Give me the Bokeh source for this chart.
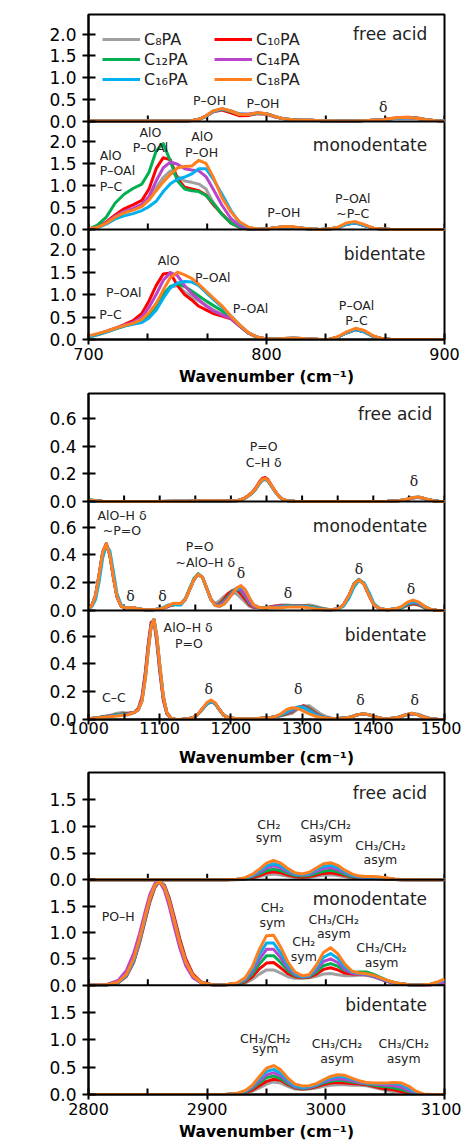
import math
from bokeh.plotting import figure
from bokeh.models import Range1d, LinearAxis, FixedTicker, NumeralTickFormatter, Label, Legend, LegendItem, Span
from bokeh.layouts import column
from bokeh.embed import file_html
from bokeh.resources import INLINE

# ---------------- data ----------------
series_names = ["C₈PA", "C₁₀PA", "C₁₂PA", "C₁₄PA", "C₁₆PA", "C₁₈PA"]

# 700-900 cm-1
wn_700 = [700, 705, 710, 715, 720, 725, 730, 734, 738, 742, 746, 750, 754, 758, 762, 766, 770, 775, 780, 785, 790, 795, 800,
          805, 810, 815, 820, 825, 830, 835, 840, 845, 850, 855, 860, 865, 870, 875, 880, 885, 890, 895, 900]

free_700_c8 = [0.01,0.01,0.01,0.01,0.01,0.01,0.01,0.01,0.01,0.01,0.01,0.01,0.01,0.02,0.05,0.13,0.24,0.28,0.22,0.15,0.15,0.18,0.17,0.10,0.06,0.04,0.03,0.03,0.02,0.02,0.01,0.01,0.01,0.02,0.03,0.04,0.06,0.08,0.08,0.06,0.04,0.02,0.01]
free_700_c10 = [0.01,0.01,0.01,0.01,0.01,0.01,0.01,0.01,0.01,0.01,0.01,0.01,0.01,0.02,0.05,0.12,0.22,0.26,0.20,0.13,0.14,0.18,0.17,0.10,0.06,0.04,0.03,0.03,0.02,0.02,0.01,0.01,0.01,0.02,0.03,0.04,0.07,0.09,0.10,0.08,0.04,0.02,0.01]
free_700_c12 = [0.01,0.01,0.01,0.01,0.01,0.01,0.01,0.01,0.01,0.01,0.01,0.01,0.01,0.02,0.05,0.12,0.23,0.28,0.23,0.16,0.16,0.19,0.18,0.11,0.06,0.04,0.03,0.03,0.02,0.02,0.01,0.01,0.01,0.02,0.03,0.04,0.06,0.08,0.09,0.07,0.04,0.02,0.01]
free_700_c14 = [0.01,0.01,0.01,0.01,0.01,0.01,0.01,0.01,0.01,0.01,0.01,0.01,0.01,0.02,0.05,0.12,0.23,0.29,0.24,0.17,0.17,0.20,0.18,0.11,0.06,0.04,0.03,0.03,0.02,0.02,0.01,0.01,0.01,0.02,0.03,0.04,0.06,0.08,0.08,0.07,0.04,0.02,0.01]
free_700_c16 = [0.01,0.01,0.01,0.01,0.01,0.01,0.01,0.01,0.01,0.01,0.01,0.01,0.01,0.02,0.05,0.12,0.23,0.29,0.24,0.17,0.16,0.19,0.18,0.11,0.06,0.04,0.03,0.03,0.02,0.02,0.01,0.01,0.01,0.02,0.03,0.04,0.06,0.08,0.09,0.07,0.04,0.02,0.01]
free_700_c18 = [0.01,0.01,0.01,0.01,0.01,0.01,0.01,0.01,0.01,0.01,0.01,0.01,0.01,0.02,0.05,0.13,0.24,0.30,0.24,0.16,0.16,0.20,0.18,0.11,0.06,0.04,0.03,0.03,0.02,0.02,0.01,0.01,0.01,0.02,0.03,0.04,0.07,0.09,0.09,0.07,0.04,0.02,0.01]

mono_700_c8 = [0.01,0.05,0.14,0.28,0.38,0.45,0.54,0.72,0.95,1.18,1.33,1.20,1.10,1.07,1.03,0.92,0.62,0.35,0.14,0.05,0.01,0.00,0.01,0.04,0.06,0.05,0.03,0.01,0.00,0.01,0.04,0.12,0.15,0.09,0.03,0.01,0.00,0.00,0.00,0.00,0.00,0.00,0.00]
mono_700_c10 = [0.01,0.06,0.17,0.33,0.47,0.56,0.66,0.92,1.38,1.63,1.58,1.15,0.96,0.92,0.88,0.78,0.57,0.35,0.15,0.05,0.01,0.00,0.01,0.04,0.06,0.05,0.03,0.01,0.00,0.01,0.04,0.12,0.15,0.09,0.03,0.01,0.00,0.00,0.00,0.00,0.00,0.00,0.00]
mono_700_c12 = [0.00,0.10,0.28,0.60,0.80,0.93,1.03,1.30,1.78,1.95,1.55,1.10,0.92,0.88,0.86,0.77,0.60,0.34,0.15,0.05,0.01,0.00,0.01,0.04,0.06,0.05,0.03,0.01,0.00,0.01,0.04,0.12,0.15,0.09,0.03,0.01,0.00,0.00,0.00,0.00,0.00,0.00,0.00]
mono_700_c14 = [0.01,0.05,0.15,0.30,0.41,0.48,0.57,0.75,1.10,1.40,1.53,1.48,1.38,1.35,1.33,1.20,0.92,0.55,0.25,0.08,0.02,0.00,0.01,0.04,0.06,0.05,0.03,0.01,0.00,0.01,0.04,0.12,0.15,0.09,0.03,0.01,0.00,0.00,0.00,0.00,0.00,0.00,0.00]
mono_700_c16 = [0.01,0.04,0.12,0.24,0.31,0.36,0.43,0.52,0.64,0.86,1.04,1.14,1.19,1.26,1.38,1.38,1.15,0.80,0.43,0.15,0.04,0.01,0.01,0.04,0.06,0.05,0.03,0.01,0.00,0.01,0.04,0.12,0.15,0.09,0.03,0.01,0.00,0.00,0.00,0.00,0.00,0.00,0.00]
mono_700_c18 = [0.01,0.05,0.14,0.28,0.38,0.44,0.52,0.67,0.88,1.08,1.25,1.40,1.43,1.44,1.57,1.50,1.20,0.72,0.40,0.17,0.05,0.01,0.01,0.04,0.07,0.06,0.03,0.01,0.00,0.01,0.05,0.15,0.18,0.11,0.03,0.01,0.00,0.00,0.00,0.00,0.00,0.00,0.00]

bi_700_c8 = [0.05,0.10,0.16,0.23,0.30,0.36,0.44,0.58,0.80,1.02,1.16,1.20,1.06,0.95,0.86,0.76,0.66,0.57,0.48,0.30,0.14,0.05,0.01,0.01,0.02,0.03,0.02,0.01,0.00,0.00,0.05,0.15,0.22,0.17,0.07,0.02,0.00,0.00,0.00,0.00,0.00,0.00,0.00]
bi_700_c10 = [0.07,0.12,0.18,0.25,0.33,0.42,0.58,0.86,1.20,1.46,1.48,1.20,1.00,0.88,0.74,0.66,0.58,0.52,0.46,0.30,0.14,0.05,0.01,0.01,0.02,0.03,0.02,0.01,0.00,0.00,0.05,0.15,0.22,0.17,0.07,0.02,0.00,0.00,0.00,0.00,0.00,0.00,0.00]
bi_700_c12 = [0.06,0.11,0.17,0.24,0.30,0.35,0.42,0.55,0.75,1.00,1.18,1.24,1.18,1.08,0.97,0.86,0.76,0.64,0.49,0.30,0.14,0.04,0.01,0.01,0.02,0.03,0.02,0.01,0.00,0.00,0.05,0.15,0.22,0.17,0.07,0.02,0.00,0.00,0.00,0.00,0.00,0.00,0.00]
bi_700_c14 = [0.07,0.12,0.18,0.25,0.32,0.38,0.50,0.72,1.00,1.32,1.49,1.42,1.20,1.02,0.89,0.75,0.64,0.55,0.47,0.30,0.14,0.05,0.01,0.01,0.02,0.03,0.02,0.01,0.00,0.00,0.05,0.15,0.22,0.17,0.07,0.02,0.00,0.00,0.00,0.00,0.00,0.00,0.00]
bi_700_c16 = [0.06,0.11,0.17,0.24,0.30,0.34,0.38,0.48,0.65,0.92,1.15,1.26,1.29,1.28,1.20,1.05,0.90,0.72,0.52,0.32,0.15,0.05,0.01,0.01,0.02,0.03,0.02,0.01,0.00,0.00,0.05,0.15,0.22,0.17,0.07,0.02,0.00,0.00,0.00,0.00,0.00,0.00,0.00]
bi_700_c18 = [0.08,0.13,0.18,0.25,0.31,0.36,0.45,0.60,0.80,1.10,1.38,1.50,1.44,1.36,1.23,1.08,0.93,0.75,0.52,0.32,0.15,0.05,0.01,0.01,0.02,0.03,0.02,0.01,0.00,0.00,0.06,0.17,0.25,0.20,0.08,0.02,0.00,0.00,0.00,0.00,0.00,0.00,0.00]

# 1000-1500 cm-1
wn_1000_free = [1000,1010,1020,1040,1060,1080,1100,1120,1140,1160,1180,1200,1210,1218,1224,1230,1235,1240,1244,1248,1252,1257,1262,1268,1274,1282,1290,1310,1340,1370,1400,1420,1435,1445,1452,1458,1464,1470,1477,1485,1492,1500]
free_1000_c8 = [0.010,0.005,0.001,0.000,0.000,0.000,0.000,0.002,0.002,0.004,0.004,0.003,0.007,0.019,0.038,0.062,0.091,0.128,0.152,0.160,0.148,0.110,0.072,0.034,0.012,0.004,0.001,0.000,0.000,0.000,0.000,0.001,0.005,0.012,0.021,0.027,0.029,0.023,0.012,0.005,0.001,0.000]
free_1000_c10 = [0.010,0.005,0.000,0.000,0.000,0.000,0.000,0.002,0.002,0.005,0.005,0.003,0.008,0.021,0.042,0.068,0.100,0.142,0.168,0.174,0.160,0.118,0.076,0.035,0.012,0.004,0.001,0.000,0.000,0.000,0.000,0.001,0.005,0.012,0.022,0.028,0.030,0.024,0.013,0.005,0.001,0.000]
free_1000_c12 = [0.015,0.008,0.002,0.000,0.000,0.000,0.000,0.002,0.002,0.005,0.005,0.003,0.008,0.020,0.040,0.064,0.094,0.133,0.158,0.165,0.152,0.113,0.074,0.035,0.012,0.004,0.001,0.000,0.000,0.000,0.000,0.001,0.006,0.013,0.023,0.029,0.031,0.025,0.013,0.005,0.001,0.000]
free_1000_c14 = [0.010,0.005,0.000,0.000,0.000,0.000,0.000,0.002,0.002,0.005,0.005,0.003,0.008,0.020,0.040,0.064,0.094,0.133,0.158,0.165,0.152,0.113,0.074,0.035,0.012,0.004,0.001,0.000,0.000,0.000,0.000,0.001,0.006,0.013,0.023,0.029,0.031,0.025,0.013,0.005,0.001,0.000]
free_1000_c16 = [0.008,0.004,0.000,0.000,0.000,0.000,0.000,0.002,0.002,0.004,0.004,0.003,0.007,0.018,0.037,0.062,0.091,0.130,0.154,0.162,0.150,0.112,0.073,0.034,0.012,0.004,0.001,0.000,0.000,0.000,0.000,0.001,0.006,0.014,0.024,0.030,0.032,0.025,0.013,0.005,0.001,0.000]
free_1000_c18 = [0.010,0.005,0.000,0.000,0.000,0.000,0.000,0.002,0.002,0.005,0.005,0.003,0.008,0.020,0.040,0.065,0.095,0.135,0.160,0.168,0.155,0.115,0.075,0.035,0.012,0.004,0.001,0.000,0.000,0.000,0.000,0.001,0.006,0.014,0.024,0.031,0.033,0.026,0.014,0.005,0.001,0.000]

wn_1000_mono = [1000,1005,1010,1015,1020,1025,1030,1035,1040,1046,1052,1058,1064,1070,1080,1090,1100,1106,1112,1118,1124,1130,1136,1142,1148,1154,1160,1166,1172,1178,1184,1190,1196,1202,1208,1214,1220,1226,1232,1240,1250,1260,1270,1280,1290,1300,1310,1320,1330,1340,1350,1358,1366,1373,1380,1387,1394,1401,1410,1420,1430,1440,1448,1456,1464,1472,1480,1490,1500]
mono_1000_c8 = [0.01,0.04,0.11,0.26,0.42,0.48,0.40,0.24,0.10,0.03,0.02,0.02,0.02,0.01,0.005,0.005,0.01,
                0.02,0.03,0.04,0.045,0.05,0.08,0.15,0.22,0.26,0.24,0.16,0.08,0.05,0.07,0.10,0.125,0.13,0.12,0.09,0.06,0.03,0.02,
                0.02,0.02,0.03,0.04,0.04,0.035,0.035,0.04,0.03,0.015,0.005,0.01,0.04,0.11,0.19,0.22,0.19,0.11,0.04,
                0.01,0.005,0.01,0.02,0.035,0.045,0.04,0.02,0.01,0.0,0.0]
mono_1000_c10 = [0.01,0.04,0.11,0.26,0.42,0.48,0.40,0.24,0.10,0.03,0.02,0.02,0.02,0.01,0.005,0.005,0.01,
                 0.02,0.03,0.04,0.045,0.05,0.08,0.15,0.22,0.26,0.24,0.16,0.08,0.04,0.05,0.08,0.12,0.145,0.15,0.12,0.08,0.04,0.025,
                 0.02,0.02,0.03,0.035,0.035,0.035,0.035,0.03,0.02,0.01,0.005,0.01,0.04,0.11,0.19,0.22,0.19,0.11,0.04,
                 0.01,0.005,0.01,0.02,0.04,0.05,0.04,0.02,0.01,0.0,0.0]
mono_1000_c12 = [0.01,0.04,0.11,0.26,0.42,0.48,0.40,0.24,0.10,0.03,0.02,0.02,0.02,0.01,0.005,0.005,0.01,
                 0.02,0.03,0.04,0.045,0.05,0.085,0.16,0.23,0.265,0.24,0.16,0.08,0.04,0.045,0.07,0.10,0.14,0.16,0.14,0.10,0.05,0.03,
                 0.02,0.02,0.025,0.03,0.035,0.03,0.03,0.03,0.02,0.01,0.005,0.01,0.04,0.11,0.195,0.225,0.19,0.11,0.04,
                 0.01,0.005,0.01,0.02,0.045,0.055,0.045,0.02,0.01,0.0,0.0]
mono_1000_c14 = [0.01,0.04,0.11,0.26,0.42,0.48,0.40,0.24,0.10,0.03,0.02,0.02,0.02,0.01,0.005,0.005,0.01,
                 0.02,0.03,0.045,0.05,0.05,0.08,0.15,0.22,0.26,0.24,0.16,0.08,0.04,0.04,0.06,0.09,0.13,0.16,0.15,0.11,0.06,0.03,
                 0.02,0.02,0.025,0.03,0.03,0.03,0.03,0.025,0.015,0.005,0.005,0.01,0.04,0.11,0.19,0.22,0.19,0.11,0.04,
                 0.01,0.005,0.01,0.025,0.05,0.06,0.05,0.025,0.01,0.0,0.0]
mono_1000_c16 = [0.01,0.03,0.08,0.21,0.38,0.47,0.43,0.28,0.12,0.04,0.02,0.02,0.015,0.01,0.005,0.005,0.01,
                 0.025,0.04,0.045,0.04,0.04,0.08,0.15,0.22,0.26,0.24,0.16,0.08,0.035,0.03,0.045,0.08,0.12,0.15,0.17,0.15,0.09,0.04,
                 0.02,0.02,0.02,0.025,0.03,0.03,0.03,0.025,0.015,0.005,0.005,0.01,0.03,0.09,0.17,0.215,0.20,0.13,0.05,
                 0.01,0.005,0.01,0.025,0.05,0.065,0.055,0.03,0.01,0.0,0.0]
mono_1000_c18 = [0.01,0.04,0.11,0.26,0.42,0.48,0.40,0.24,0.10,0.03,0.02,0.02,0.02,0.01,0.005,0.005,0.01,
                 0.02,0.035,0.05,0.052,0.05,0.08,0.15,0.22,0.26,0.24,0.16,0.08,0.035,0.03,0.045,0.08,0.12,0.16,0.18,0.15,0.09,0.04,
                 0.02,0.02,0.02,0.02,0.025,0.025,0.025,0.02,0.01,0.005,0.005,0.01,0.04,0.11,0.19,0.22,0.19,0.11,0.04,
                 0.01,0.005,0.01,0.03,0.06,0.075,0.06,0.03,0.01,0.0,0.0]

wn_1000_bi = [1000,1010,1020,1030,1040,1048,1056,1064,1070,1075,1080,1084,1088,1092,1096,1100,1105,1110,1116,1122,1130,1140,1148,1154,1160,1166,1172,1178,1184,1190,1198,1210,1230,1250,1262,1270,1278,1286,1294,1302,1310,1318,1326,1334,1345,1360,1370,1378,1386,1394,1402,1412,1420,1430,1438,1446,1454,1462,1470,1480,1490,1500]
bi_1000_c8 = [0.005,0.01,0.02,0.03,0.045,0.05,0.045,0.05,0.07,0.14,0.32,0.52,0.68,0.72,0.58,0.38,0.16,0.05,0.01,0.0,0.0,
              0.005,0.015,0.04,0.075,0.11,0.13,0.115,0.07,0.03,0.01,0.005,0.005,0.01,
              0.015,0.025,0.035,0.045,0.075,0.095,0.10,0.07,0.04,0.02,0.005,0.01,0.02,0.035,0.04,0.035,0.02,0.008,
              0.005,0.01,0.02,0.03,0.04,0.04,0.025,0.008,0.002,0.0]
bi_1000_c10 = [0.005,0.01,0.02,0.025,0.035,0.04,0.045,0.05,0.08,0.16,0.35,0.55,0.70,0.71,0.55,0.35,0.14,0.04,0.01,0.0,0.0,
               0.005,0.015,0.04,0.075,0.11,0.13,0.115,0.07,0.03,0.01,0.005,0.005,0.01,
               0.02,0.03,0.04,0.055,0.085,0.10,0.08,0.05,0.025,0.01,0.005,0.01,0.02,0.035,0.04,0.035,0.02,0.008,
               0.005,0.01,0.02,0.035,0.042,0.035,0.018,0.005,0.001,0.0]
bi_1000_c12 = [0.005,0.01,0.02,0.025,0.035,0.04,0.04,0.05,0.07,0.14,0.32,0.52,0.68,0.72,0.58,0.38,0.16,0.05,0.01,0.0,0.0,
               0.005,0.015,0.04,0.075,0.11,0.13,0.115,0.07,0.03,0.01,0.005,0.005,0.01,
               0.02,0.03,0.045,0.06,0.085,0.095,0.075,0.045,0.025,0.01,0.005,0.01,0.02,0.035,0.04,0.035,0.02,0.008,
               0.005,0.01,0.02,0.035,0.042,0.035,0.018,0.005,0.001,0.0]
bi_1000_c14 = [0.005,0.01,0.015,0.025,0.03,0.035,0.04,0.05,0.07,0.14,0.32,0.52,0.68,0.72,0.58,0.38,0.16,0.05,0.01,0.0,0.0,
               0.005,0.015,0.04,0.075,0.11,0.13,0.115,0.07,0.03,0.01,0.005,0.005,0.01,
               0.02,0.035,0.05,0.065,0.088,0.09,0.065,0.04,0.02,0.01,0.005,0.01,0.02,0.035,0.04,0.035,0.02,0.008,
               0.005,0.01,0.02,0.035,0.042,0.035,0.018,0.005,0.001,0.0]
bi_1000_c16 = [0.005,0.01,0.015,0.02,0.03,0.035,0.035,0.05,0.07,0.13,0.30,0.50,0.67,0.72,0.60,0.40,0.17,0.05,0.01,0.0,0.0,
               0.005,0.015,0.04,0.075,0.11,0.13,0.115,0.07,0.03,0.01,0.005,0.005,0.01,
               0.02,0.035,0.055,0.075,0.09,0.085,0.06,0.035,0.02,0.01,0.005,0.01,0.02,0.035,0.042,0.035,0.02,0.008,
               0.005,0.01,0.02,0.035,0.045,0.035,0.018,0.005,0.001,0.0]
bi_1000_c18 = [0.005,0.01,0.015,0.02,0.025,0.03,0.035,0.05,0.07,0.13,0.30,0.50,0.67,0.72,0.60,0.40,0.17,0.05,0.01,0.0,0.0,
               0.005,0.015,0.04,0.08,0.12,0.14,0.12,0.07,0.03,0.01,0.005,0.005,0.01,
               0.02,0.04,0.07,0.085,0.08,0.06,0.04,0.025,0.015,0.01,0.005,0.01,0.02,0.035,0.042,0.035,0.02,0.008,
               0.005,0.01,0.02,0.035,0.045,0.035,0.018,0.005,0.001,0.0]

# 2800-3100 cm-1
wn_2800_free = [2800,2850,2900,2915,2925,2932,2938,2944,2950,2956,2962,2968,2974,2980,2986,2992,2998,3004,3010,3016,3022,3028,3034,3040,3046,3052,3058,3064,3075,3090,3100]
free_2800_c8 = [0,0,0,0,0.003,0.01,0.03,0.06,0.09,0.11,0.09,0.065,0.045,0.04,0.045,0.065,0.085,0.095,0.08,0.055,0.035,0.02,0.02,0.02,0.015,0.01,0.004,0.001,0,0,0]
free_2800_c10 = [0,0,0,0,0.004,0.02,0.04,0.08,0.13,0.15,0.13,0.09,0.06,0.05,0.06,0.09,0.12,0.13,0.11,0.08,0.05,0.03,0.025,0.025,0.02,0.015,0.006,0.002,0,0,0]
free_2800_c12 = [0,0,0,0,0.005,0.02,0.06,0.11,0.17,0.2,0.17,0.12,0.08,0.07,0.08,0.12,0.16,0.18,0.15,0.1,0.06,0.04,0.03,0.03,0.03,0.02,0.008,0.002,0,0,0]
free_2800_c14 = [0,0,0,0,0.01,0.03,0.07,0.14,0.22,0.26,0.22,0.15,0.1,0.09,0.1,0.16,0.21,0.23,0.19,0.13,0.08,0.05,0.04,0.04,0.04,0.025,0.01,0.003,0,0,0]
free_2800_c16 = [0,0,0,0,0.01,0.03,0.08,0.17,0.26,0.3,0.26,0.18,0.11,0.1,0.12,0.19,0.25,0.27,0.23,0.15,0.09,0.06,0.05,0.05,0.045,0.03,0.012,0.004,0,0,0]
free_2800_c18 = [0,0,0,0,0.01,0.04,0.1,0.2,0.31,0.36,0.31,0.21,0.13,0.11,0.14,0.22,0.3,0.32,0.27,0.18,0.11,0.07,0.06,0.06,0.055,0.035,0.015,0.005,0,0,0]

wn_2800_mono = [2800,2815,2825,2832,2838,2843,2848,2852,2856,2860,2864,2868,2872,2877,2882,2888,2895,2905,2915,2925,2932,2938,2944,2950,2956,2962,2968,2974,2980,2986,2992,2998,3004,3010,3016,3022,3028,3034,3040,3046,3052,3060,3070,3080,3088,3094,3100]
mono_2800_c8 = [0.0,0.005,0.05,0.19,0.47,0.85,1.3,1.65,1.89,1.97,1.87,1.6,1.25,0.81,0.44,0.18,0.05,0.005,0.01,
                0.015,0.04,0.11,0.21,0.29,0.29,0.23,0.16,0.13,0.13,0.14,0.17,0.21,0.22,0.2,0.18,0.18,0.19,0.19,0.16,0.11,0.07,0.03,0.01,0.003,0.01,0.02,0.04]
mono_2800_c10 = [0.0,0.004,0.045,0.17,0.43,0.8,1.25,1.6,1.86,1.97,1.9,1.66,1.32,0.88,0.5,0.21,0.06,0.006,0.01,
                 0.02,0.06,0.16,0.31,0.42,0.43,0.33,0.22,0.16,0.14,0.15,0.21,0.3,0.33,0.29,0.23,0.21,0.21,0.2,0.17,0.12,0.07,0.03,0.01,0.003,0.01,0.02,0.04]
mono_2800_c12 = [0.0,0.005,0.06,0.22,0.52,0.9,1.35,1.69,1.91,1.96,1.84,1.56,1.2,0.77,0.41,0.16,0.045,0.005,0.01,
                 0.025,0.08,0.21,0.4,0.56,0.56,0.43,0.28,0.18,0.15,0.16,0.25,0.37,0.41,0.36,0.28,0.24,0.25,0.25,0.21,0.15,0.09,0.04,0.01,0.005,0.02,0.05,0.09]
mono_2800_c14 = [0.0,0.01,0.09,0.28,0.6,0.98,1.42,1.74,1.93,1.96,1.8,1.5,1.13,0.7,0.37,0.14,0.04,0.005,0.01,
                 0.03,0.1,0.26,0.49,0.68,0.68,0.52,0.33,0.2,0.155,0.17,0.29,0.45,0.5,0.43,0.3,0.23,0.21,0.2,0.17,0.12,0.07,0.03,0.01,0.003,0.01,0.03,0.05]
mono_2800_c16 = [0.0,0.004,0.05,0.18,0.45,0.83,1.28,1.64,1.88,1.97,1.88,1.62,1.27,0.82,0.45,0.18,0.05,0.005,0.01,
                 0.035,0.12,0.3,0.58,0.8,0.8,0.61,0.38,0.22,0.165,0.18,0.33,0.53,0.6,0.51,0.35,0.25,0.22,0.21,0.18,0.13,0.08,0.035,0.01,0.005,0.02,0.05,0.1]
mono_2800_c18 = [0.0,0.006,0.06,0.21,0.5,0.88,1.33,1.67,1.9,1.97,1.86,1.59,1.24,0.8,0.44,0.18,0.05,0.005,0.01,
                 0.04,0.14,0.35,0.68,0.94,0.95,0.72,0.44,0.25,0.18,0.2,0.38,0.62,0.71,0.6,0.4,0.27,0.23,0.22,0.19,0.14,0.09,0.04,0.01,0.005,0.02,0.06,0.12]

wn_2800_bi = [2800,2850,2900,2915,2925,2932,2938,2944,2950,2956,2962,2968,2974,2980,2986,2992,2998,3004,3010,3016,3022,3028,3034,3040,3046,3052,3058,3064,3070,3076,3082,3090,3100]
bi_2800_c8 = [0,0,0,0,0.006,0.025,0.06,0.12,0.19,0.23,0.21,0.15,0.1,0.09,0.1,0.12,0.15,0.17,0.18,0.18,0.17,0.17,0.16,0.13,0.1,0.07,0.05,0.03,0.015,0.005,0.0,0,0]
bi_2800_c10 = [0,0,0,0,0.008,0.03,0.08,0.16,0.24,0.28,0.26,0.18,0.12,0.1,0.11,0.14,0.18,0.21,0.22,0.21,0.2,0.19,0.18,0.15,0.12,0.1,0.08,0.05,0.025,0.008,0.001,0,0]
bi_2800_c12 = [0,0,0,0,0.01,0.04,0.11,0.21,0.31,0.34,0.29,0.2,0.13,0.11,0.12,0.16,0.21,0.24,0.26,0.25,0.23,0.21,0.19,0.17,0.15,0.14,0.12,0.09,0.05,0.015,0.002,0,0]
bi_2800_c14 = [0,0,0,0,0.015,0.05,0.13,0.25,0.36,0.4,0.34,0.23,0.14,0.12,0.13,0.17,0.23,0.27,0.29,0.28,0.25,0.22,0.2,0.19,0.18,0.17,0.16,0.13,0.07,0.02,0.003,0,0]
bi_2800_c16 = [0,0,0,0,0.015,0.06,0.15,0.29,0.42,0.46,0.39,0.26,0.16,0.13,0.14,0.18,0.25,0.3,0.33,0.32,0.28,0.24,0.21,0.2,0.2,0.2,0.2,0.18,0.11,0.04,0.005,0,0]
bi_2800_c18 = [0,0,0,0,0.02,0.07,0.17,0.33,0.48,0.53,0.45,0.3,0.19,0.155,0.16,0.2,0.27,0.33,0.36,0.35,0.3,0.25,0.22,0.21,0.21,0.21,0.22,0.21,0.15,0.06,0.01,0.0,0.0]

# tick positions
g1_major, g1_minor = [700, 800, 900], [733.33, 766.67, 833.33, 866.67]
g2_major, g2_minor = [1000, 1100, 1200, 1300, 1400, 1500], [1050, 1150, 1250, 1350, 1450]
g3_major, g3_minor = [2800, 2900, 3000, 3100], [2850, 2950, 3050]
g1_yticks = [0, 0.5, 1.0, 1.5, 2.0]
g2_yticks = [0, 0.2, 0.4, 0.6]
g3_yticks = [0, 0.5, 1.0, 1.5]

# ---------------- styling ----------------
FONT = "DejaVu Sans"
SERIF = "DejaVu Serif"
TXT = "#222222"
COLORS = ["#A0A0A0", "#FF0000", "#00B050", "#BB44CC", "#00B0F0", "#FF7F1F"]
LEFT, RIGHT = 88, 17
FRAME_W = 461 - LEFT - RIGHT


def make_group(xstart, xend, xmajor, xminor, ymax, yticks, H, bands, top, bottom,
               lbl_standoff, ttl_standoff):
    """One figure holding three stacked panels; each panel has its own y range."""
    names = ["free", "mono", "default"]
    u = [ymax / (b - t) for (t, b) in bands]
    ranges = {}
    for nm, (t, b), uk in zip(names, bands, u):
        ranges[nm] = Range1d(-(H - b) * uk, ymax + t * uk)
    p = figure(width=461, height=top + H + bottom,
               x_range=Range1d(xstart, xend), y_range=ranges["default"],
               extra_y_ranges={"free": ranges["free"], "mono": ranges["mono"]},
               output_backend="svg", toolbar_location=None, title=None,
               x_axis_location=None, y_axis_location=None,
               min_border_left=LEFT, min_border_right=RIGHT,
               min_border_top=top, min_border_bottom=bottom)
    p.xgrid.visible = False
    p.ygrid.visible = False
    p.outline_line_color = "black"
    p.outline_line_width = 2
    p.outline_line_alpha = 1
    p.background_fill_color = "white"
    p.border_fill_color = "white"

    # left axis: one axis carrying the ticks of all three panels
    ud = u[2]
    tick_pos, overrides = [], {}
    for (t, b), uk in zip(bands, u):
        for v in yticks:
            py = b - v / uk
            pos = round((H - py) * ud, 9)
            tick_pos.append(pos)
            overrides[pos] = "%.1f" % v
    yax = LinearAxis(ticker=FixedTicker(ticks=tick_pos), major_label_overrides=overrides)
    yax.major_label_text_font = FONT
    yax.major_label_text_font_size = "17px"
    yax.major_label_text_color = "black"
    yax.major_label_standoff = 6
    yax.major_tick_in = 7
    yax.major_tick_out = 6
    yax.major_tick_line_width = 2
    yax.minor_tick_line_color = None
    yax.axis_line_width = 2
    p.add_layout(yax, "left")

    xax = LinearAxis(ticker=FixedTicker(ticks=xmajor, minor_ticks=xminor),
                     formatter=NumeralTickFormatter(format="0"))
    xax.axis_line_width = 2
    xax.major_tick_line_width = 2
    xax.minor_tick_line_width = 2
    xax.major_tick_in = 6
    xax.minor_tick_in = 6
    xax.minor_tick_out = 0
    xax.major_tick_out = 5
    xax.major_label_text_font = FONT
    xax.major_label_text_font_size = "16px"
    xax.major_label_text_color = "black"
    xax.major_label_standoff = lbl_standoff
    xax.axis_label = "Wavenumber (cm⁻¹)"
    xax.axis_label_text_font = FONT
    xax.axis_label_text_font_style = "bold"
    xax.axis_label_text_font_size = "15.5px"
    xax.axis_label_text_color = "black"
    xax.axis_label_standoff = ttl_standoff
    p.add_layout(xax, "below")

    # panel separators, inner ticks of the upper panels, "Intensity" labels
    xpx = (xend - xstart) / FRAME_W
    for nm, (t, b), uk in zip(names, bands, u):
        if nm != "default":
            p.add_layout(Span(location=0, dimension="width", y_range_name=nm,
                              line_color="black", line_width=2))
            tk = xmajor + xminor
            p.segment(x0=tk, y0=[0] * len(tk), x1=tk, y1=[6 * uk] * len(tk),
                      y_range_name=nm, line_color="black", line_width=2)
        p.add_layout(Label(x=xstart + (20 - LEFT) * xpx, y=(b - t) / 2 * uk,
                           y_range_name=nm, text="Intensity", angle=math.pi / 2,
                           text_align="center", text_baseline="middle",
                           text_font=FONT, text_font_style="bold", text_font_size="15.5px",
                           text_color="black"))
    return p


def draw(p, rn, x, ys):
    rends = []
    for y, c in zip(ys, COLORS):
        rends.append(p.line(x, y, line_color=c, line_width=3, line_join="round", y_range_name=rn))
    return rends


def note(p, rn, text, x, y, align="center", size="12.5px", font=FONT):
    p.add_layout(Label(x=x, y=y, text=text, text_align=align, text_baseline="middle", y_range_name=rn,
                       text_font=font, text_font_size=size, text_color=TXT))


def delta(p, rn, x, y):
    note(p, rn, "δ", x, y, size="14px", font=SERIF)


# ---- group 1: 700-900 ----
G1 = make_group(700, 900, g1_major, g1_minor, 2.45, g1_yticks, 325,
                [(0, 107), (107, 215), (215, 325)], 14, 53, 3, 5)
r1 = draw(G1, "free", wn_700, [free_700_c8, free_700_c10, free_700_c12, free_700_c14, free_700_c16, free_700_c18])
draw(G1, "mono", wn_700, [mono_700_c8, mono_700_c10, mono_700_c12, mono_700_c14, mono_700_c16, mono_700_c18])
draw(G1, "default", wn_700, [bi_700_c8, bi_700_c10, bi_700_c12, bi_700_c14, bi_700_c16, bi_700_c18])
order = [0, 2, 4, 1, 3, 5]
legend = Legend(items=[LegendItem(label=series_names[i], renderers=[r1[i]]) for i in order],
                location=(14, 250), orientation="vertical", ncols=2,
                label_text_font=FONT, label_text_font_size="16px", label_text_color=TXT,
                glyph_width=38, glyph_height=20, label_height=20, label_width=70,
                spacing=0, padding=0, margin=0, label_standoff=4,
                border_line_color=None, background_fill_alpha=0)
G1.add_layout(legend)
note(G1, "free", "free acid", 890.3, 2.0, "right", "17px")
note(G1, "free", "P–OH", 768, 0.49)
note(G1, "free", "P–OH", 798, 0.41)
delta(G1, "free", 865.5, 0.34)
note(G1, "mono", "monodentate", 890.3, 1.91, "right", "17px")
note(G1, "mono", "AlO", 706.3, 1.68, "left")
note(G1, "mono", "P–OAl", 706.3, 1.34, "left")
note(G1, "mono", "P–C", 706.3, 0.98, "left")
note(G1, "mono", "AlO", 734.8, 2.2)
note(G1, "mono", "P–OAl", 734.8, 1.85)
note(G1, "mono", "AlO", 763.9, 2.1)
note(G1, "mono", "P–OH", 763.5, 1.74)
note(G1, "mono", "P–OH", 809.7, 0.38)
note(G1, "mono", "P–OAl", 848.5, 0.71)
note(G1, "mono", "~P–C", 848.5, 0.36)
note(G1, "default", "bidentate", 889.3, 1.9, "right", "17px")
note(G1, "default", "AlO", 745, 1.75)
note(G1, "default", "P–OAl", 719.8, 1.05)
note(G1, "default", "P–C", 712.4, 0.55)
note(G1, "default", "P–OAl", 769.8, 1.37)
note(G1, "default", "P–OAl", 791, 0.68)
note(G1, "default", "P–OAl", 850.6, 0.76)
note(G1, "default", "P–C", 850.6, 0.42)

# ---- group 2: 1000-1500 ----
G2 = make_group(1000, 1500, g2_major, g2_minor, 0.785, g2_yticks, 326,
                [(0, 108), (108, 217), (217, 326)], 1, 52, -3, 12)
draw(G2, "free", wn_1000_free, [free_1000_c8, free_1000_c10, free_1000_c12, free_1000_c14, free_1000_c16, free_1000_c18])
draw(G2, "mono", wn_1000_mono, [mono_1000_c8, mono_1000_c10, mono_1000_c12, mono_1000_c14, mono_1000_c16, mono_1000_c18])
draw(G2, "default", wn_1000_bi, [bi_1000_c8, bi_1000_c10, bi_1000_c12, bi_1000_c14, bi_1000_c16, bi_1000_c18])
note(G2, "free", "free acid", 1482.7, 0.635, "right", "17px")
note(G2, "free", "P=O", 1246, 0.40)
note(G2, "free", "C–H δ", 1246, 0.28)
delta(G2, "free", 1457, 0.15)
note(G2, "mono", "monodentate", 1475.7, 0.61, "right", "17px")
note(G2, "mono", "AlO–H δ", 1047, 0.686)
note(G2, "mono", "~P=O", 1047, 0.576)
delta(G2, "mono", 1059, 0.107)
delta(G2, "mono", 1104, 0.107)
note(G2, "mono", "P=O", 1156, 0.46)
note(G2, "mono", "~AlO–H δ", 1164, 0.345)
delta(G2, "mono", 1214, 0.27)
delta(G2, "mono", 1280, 0.124)
delta(G2, "mono", 1380, 0.30)
delta(G2, "mono", 1453, 0.155)
note(G2, "default", "bidentate", 1474.7, 0.61, "right", "17px")
note(G2, "default", "AlO–H δ", 1140, 0.66)
note(G2, "default", "P=O", 1141, 0.545)
note(G2, "default", "C–C", 1035.5, 0.158)
delta(G2, "default", 1169, 0.218)
delta(G2, "default", 1294.5, 0.218)
delta(G2, "default", 1382, 0.14)
delta(G2, "default", 1458, 0.14)

# ---- group 3: 2800-3100 ----
G3 = make_group(2800, 3100, g3_major, g3_minor, 2.0, g3_yticks, 324,
                [(0, 108), (108, 214), (214, 324)], 1, 47, 3, 5)
draw(G3, "free", wn_2800_free, [free_2800_c8, free_2800_c10, free_2800_c12, free_2800_c14, free_2800_c16, free_2800_c18])
draw(G3, "mono", wn_2800_mono, [mono_2800_c8, mono_2800_c10, mono_2800_c12, mono_2800_c14, mono_2800_c16, mono_2800_c18])
draw(G3, "default", wn_2800_bi, [bi_2800_c8, bi_2800_c10, bi_2800_c12, bi_2800_c14, bi_2800_c16, bi_2800_c18])
note(G3, "free", "free acid", 3085.3, 1.62, "right", "17px")
note(G3, "free", "CH₂", 2952, 1.04)
note(G3, "free", "sym", 2952, 0.785)
note(G3, "free", "CH₃/CH₂", 3000, 1.04)
note(G3, "free", "asym", 3000, 0.785)
note(G3, "free", "CH₃/CH₂", 3046, 0.64)
note(G3, "free", "asym", 3046, 0.37)
note(G3, "mono", "monodentate", 3085.3, 1.63, "right", "17px")
note(G3, "mono", "PO–H", 2825, 1.3)
note(G3, "mono", "CH₂", 2955, 1.48)
note(G3, "mono", "sym", 2955, 1.19)
note(G3, "mono", "CH₂", 2981.4, 0.83)
note(G3, "mono", "sym", 2981.4, 0.54)
note(G3, "mono", "CH₃/CH₂", 3006.7, 1.25)
note(G3, "mono", "asym", 3006.7, 0.99)
note(G3, "mono", "CH₃/CH₂", 3047, 0.71)
note(G3, "mono", "asym", 3047, 0.43)
note(G3, "default", "bidentate", 3085.3, 1.64, "right", "17px")
note(G3, "default", "CH₃/CH₂", 2949, 1.03)
note(G3, "default", "sym", 2949, 0.84)
note(G3, "default", "CH₃/CH₂", 3009.5, 0.94)
note(G3, "default", "asym", 3009.5, 0.65)
note(G3, "default", "CH₃/CH₂", 3065.6, 0.94)
note(G3, "default", "asym", 3065.6, 0.65)

layout = column(G1, G2, G3, spacing=0)
open("out.html", "w").write(file_html(layout, INLINE))
